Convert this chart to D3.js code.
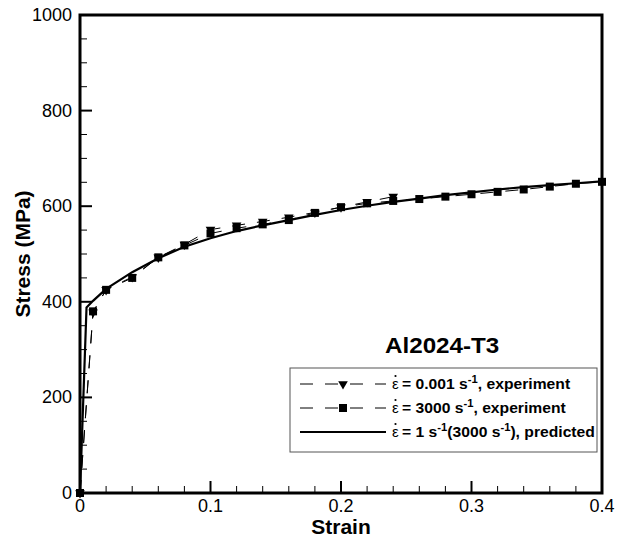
<!DOCTYPE html>
<html><head><meta charset="utf-8">
<script src="https://cdn.jsdelivr.net/npm/d3@7"></script>
<style>body{margin:0;background:#fff}svg{display:block}text{font-family:"Liberation Sans",Arial,sans-serif}</style>
</head><body>
<script>
const strainSlow = [0, 0.01, 0.02, 0.04, 0.06, 0.08, 0.10, 0.12, 0.14, 0.16, 0.18, 0.20, 0.22, 0.24];
const stressSlow = [0, 378, 425, 452, 493, 520, 551, 560, 568, 577, 587, 598, 609, 620];
const strainFast = [0, 0.01, 0.02, 0.04, 0.06, 0.08, 0.10, 0.12, 0.14, 0.16, 0.18, 0.20, 0.22, 0.24, 0.26, 0.28, 0.30, 0.32, 0.34, 0.36, 0.38, 0.40];
const stressFast = [0, 380, 425, 450, 493, 518, 543, 554, 562, 571, 586, 598, 606, 611, 615, 620, 625, 630, 635, 641, 647, 651];
const strainPred = [0, 0.005, 0.01, 0.02, 0.04, 0.06, 0.08, 0.10, 0.12, 0.14, 0.16, 0.18, 0.20, 0.22, 0.24, 0.26, 0.28, 0.30, 0.32, 0.34, 0.36, 0.38, 0.40];
const stressPred = [0, 388, 402, 427, 462, 491, 515, 533, 548, 560, 571, 582, 592, 601, 609, 616, 623, 629, 635, 640, 644, 648, 652];
const xTicks = [0, 0.1, 0.2, 0.3, 0.4];
const xTickLabels = ["0", "0.1", "0.2", "0.3", "0.4"];
const yTicks = [0, 200, 400, 600, 800, 1000];
const yTickLabels = ["0", "200", "400", "600", "800", "1000"];
const chartTitle = "Al2024-T3";

const W = 618, H = 540;
const L = 80, T = 15, R = 602, B = 493;
const svg = d3.select("body").append("svg").attr("width", W).attr("height", H);
const x = d3.scaleLinear().domain([0, 0.4]).range([L, R]);
const y = d3.scaleLinear().domain([0, 1000]).range([B, T]);

// minor ticks
const xMinor = d3.range(0, 0.4001, 0.02).filter(v => Math.abs(v*10 - Math.round(v*10)) > 1e-6);
const yMinor = d3.range(0, 1000.1, 50).filter(v => v % 200 !== 0);
svg.append("g").selectAll("line").data(xMinor).join("line")
  .attr("x1", d => x(d)).attr("x2", d => x(d)).attr("y1", B).attr("y2", B - 7)
  .attr("stroke", "#000").attr("stroke-width", 1);
svg.append("g").selectAll("line").data(yMinor).join("line")
  .attr("y1", d => y(d)).attr("y2", d => y(d)).attr("x1", L).attr("x2", L + 7)
  .attr("stroke", "#000").attr("stroke-width", 1);
// major ticks
svg.append("g").selectAll("line").data(xTicks).join("line")
  .attr("x1", d => x(d)).attr("x2", d => x(d)).attr("y1", B).attr("y2", B - 12)
  .attr("stroke", "#000").attr("stroke-width", 2);
svg.append("g").selectAll("line").data(yTicks).join("line")
  .attr("y1", d => y(d)).attr("y2", d => y(d)).attr("x1", L).attr("x2", L + 12)
  .attr("stroke", "#000").attr("stroke-width", 2);

// tick labels
svg.append("g").selectAll("text").data(xTicks).join("text")
  .attr("x", d => x(d)).attr("y", B + 19).attr("text-anchor", "middle")
  .attr("font-size", 18).text((d, i) => xTickLabels[i]);
svg.append("g").selectAll("text").data(yTicks).join("text")
  .attr("x", L - 8).attr("y", d => y(d) + 6).attr("text-anchor", "end")
  .attr("font-size", 18).text((d, i) => yTickLabels[i]);

// axis titles
svg.append("text").attr("x", x(0.2)).attr("y", 534).attr("text-anchor", "middle")
  .attr("font-size", 21).attr("font-weight", "bold").text("Strain");
svg.append("text").attr("transform", `translate(30,${(T+B)/2}) rotate(-90)`)
  .attr("text-anchor", "middle").attr("font-size", 21).attr("font-weight", "bold").text("Stress (MPa)");

// data lines
const line = d3.line().x(d => x(d[0])).y(d => y(d[1]));
const slow = strainSlow.map((s, i) => [s, stressSlow[i]]);
const fast = strainFast.map((s, i) => [s, stressFast[i]]);
const pred = strainPred.map((s, i) => [s, stressPred[i]]);
svg.append("path").datum(slow).attr("d", line).attr("fill", "none").attr("stroke", "#000")
  .attr("stroke-width", 1).attr("stroke-dasharray", "13,12");
svg.append("path").datum(fast).attr("d", line).attr("fill", "none").attr("stroke", "#000")
  .attr("stroke-width", 1).attr("stroke-dasharray", "13,12");
svg.append("path").datum(pred).attr("d", line).attr("fill", "none").attr("stroke", "#000")
  .attr("stroke-width", 2.2);

const tri = d3.symbol().type(d3.symbolTriangle).size(40);
svg.append("g").selectAll("path").data(slow).join("path")
  .attr("d", tri).attr("transform", d => `translate(${x(d[0])},${y(d[1])}) rotate(180)`).attr("fill", "#000");
svg.append("g").selectAll("rect").data(fast).join("rect")
  .attr("x", d => x(d[0]) - 4).attr("y", d => y(d[1]) - 4).attr("width", 8).attr("height", 8).attr("fill", "#000");

// frame
svg.append("rect").attr("x", L).attr("y", T).attr("width", R - L).attr("height", B - T)
  .attr("fill", "none").attr("stroke", "#000").attr("stroke-width", 3);

// title
svg.append("text").attr("transform", "translate(385,353) scale(1.1,1)")
  .attr("font-size", 22).attr("font-weight", "bold").text(chartTitle);

// legend
const lg = svg.append("g");
lg.append("rect").attr("x", 290).attr("y", 368).attr("width", 307).attr("height", 84)
  .attr("fill", "#fff").attr("stroke", "#555").attr("stroke-width", 1);
const rows = [
  {y: 384, dash: "13,12", marker: "tri", parts: [["= 0.001 s", false], ["-1", true], [", experiment", false]]},
  {y: 408, dash: "13,12", marker: "sq", parts: [["= 3000 s", false], ["-1", true], [", experiment", false]]},
  {y: 432, dash: null, marker: null, parts: [["= 1 s", false], ["-1", true], ["(3000 s", false], ["-1", true], ["), predicted", false]]}
];
rows.forEach(r => {
  const ln = lg.append("line").attr("x1", 300).attr("x2", 386).attr("y1", r.y).attr("y2", r.y)
    .attr("stroke", "#000").attr("stroke-width", r.dash ? 1 : 2.2);
  if (r.dash) ln.attr("stroke-dasharray", r.dash);
  if (r.marker === "tri") lg.append("path").attr("d", tri).attr("transform", `translate(343,${r.y}) rotate(180)`);
  if (r.marker === "sq") lg.append("rect").attr("x", 339).attr("y", r.y - 4).attr("width", 8).attr("height", 8);
  lg.append("text").attr("x", 392).attr("y", r.y + 5).attr("font-size", 15)
    .attr("font-family", "'Liberation Serif',serif").text("ε");
  lg.append("circle").attr("cx", 395.5).attr("cy", r.y - 8).attr("r", 1.1).attr("fill", "#000");
  const t = lg.append("text").attr("transform", `translate(402,${r.y + 5}) scale(1.12,1)`)
    .attr("font-size", 14).attr("font-weight", "bold");
  let raised = false;
  r.parts.forEach(p => {
    const sp = t.append("tspan").text(p[0]);
    if (p[1]) { sp.attr("font-size", 10).attr("dy", -6); raised = true; }
    else { sp.attr("dy", raised ? 6 : 0); raised = false; }
  });
});
</script>
</body></html>
